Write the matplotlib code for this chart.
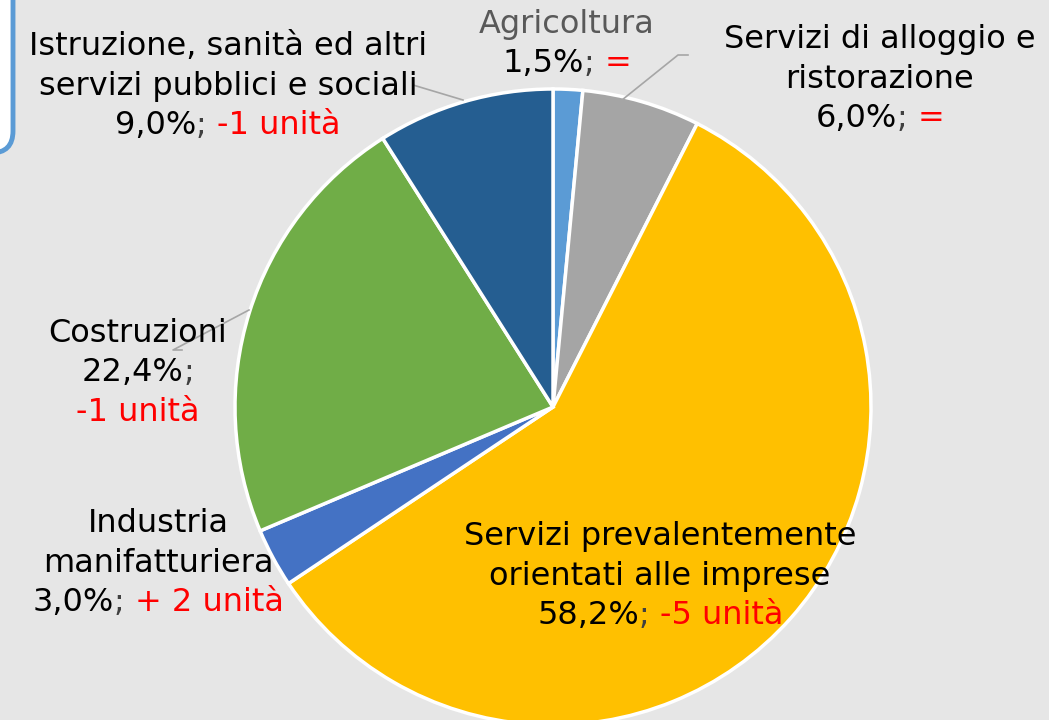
import matplotlib
matplotlib.use("Agg")
import matplotlib.pyplot as plt
from matplotlib.offsetbox import TextArea, HPacker, VPacker, AnnotationBbox
from matplotlib.patches import FancyBboxPatch

# ---- data ----
categories = ["Agricoltura", "Servizi di alloggio e\nristorazione",
              "Servizi prevalentemente\norientati alle imprese",
              "Industria\nmanifatturiera", "Costruzioni",
              "Istruzione, sanità ed altri\nservizi pubblici e sociali"]
shares = [1.5, 6.0, 58.2, 3.0, 22.4, 9.0]
changes = ["=", "=", "-5 unità", "+ 2 unità", "-1 unità", "-1 unità"]
colors = ["#5b9bd5", "#a5a5a5", "#ffc000", "#4472c4", "#70ad47", "#255e91"]

BG = "#e6e6e6"
W, H = 1049, 720
fig = plt.figure(figsize=(W / 100, H / 100), dpi=100, facecolor=BG)
ax = fig.add_axes([0, 0, 1, 1])
ax.set_facecolor(BG)

cx, cy, R = 553, H - 407, 318
ax.pie(shares, colors=colors, startangle=90, counterclock=False,
       center=(cx, cy), radius=R, frame=True,
       wedgeprops=dict(edgecolor="white", linewidth=2.5))
ax.set_xlim(0, W)
ax.set_ylim(0, H)
ax.set_aspect("equal")
ax.axis("off")

# blue rounded box at top-left (partially visible)
box = FancyBboxPatch((-60, H - 153), 73, 200, boxstyle="round,pad=0,rounding_size=22",
                     facecolor="white", edgecolor="#5b9bd5", linewidth=3.5, zorder=5)
ax.add_patch(box)

FS = 23
GREY_SEMI = "#404040"


def ta(s, color="black"):
    return TextArea(s, textprops=dict(color=color, fontsize=FS, family="DejaVu Sans"))


def pct(v):
    return f"{v:.1f}".replace(".", ",") + "%"


def label(i, x, y, name_color="black", split_change=False):
    lines = [HPacker(children=[ta(l, name_color)], pad=0, sep=0, align="baseline")
             for l in categories[i].split("\n")]
    if split_change:
        lines.append(HPacker(children=[ta(pct(shares[i])), ta(";", GREY_SEMI)],
                             pad=0, sep=0, align="baseline"))
        lines.append(HPacker(children=[ta(changes[i], "red")], pad=0, sep=0, align="baseline"))
    else:
        lines.append(HPacker(children=[ta(pct(shares[i])), ta("; ", GREY_SEMI),
                                       ta(changes[i], "red")],
                             pad=0, sep=0, align="baseline"))
    vp = VPacker(children=lines, pad=0, sep=6, align="center")
    ab = AnnotationBbox(vp, (x, H - y), xycoords="data", frameon=False,
                        box_alignment=(0.5, 0.5), zorder=6)
    ax.add_artist(ab)


# leader lines (pixel coords, y from top)
def leader(pts):
    xs = [p[0] for p in pts]
    ys = [H - p[1] for p in pts]
    ax.plot(xs, ys, color="#a6a6a6", linewidth=1.2, zorder=4)


leader([(463, 100), (413, 85)])
leader([(622, 100), (678, 55), (688, 55)])
leader([(249, 310), (173, 350), (182, 350)])

label(0, 567, 44, name_color="#595959")
label(1, 880, 79)
label(2, 660, 576)
label(3, 158, 563)
label(4, 138, 373, split_change=True)
label(5, 228, 86)

fig.savefig("out.png", dpi=100, facecolor=BG)
